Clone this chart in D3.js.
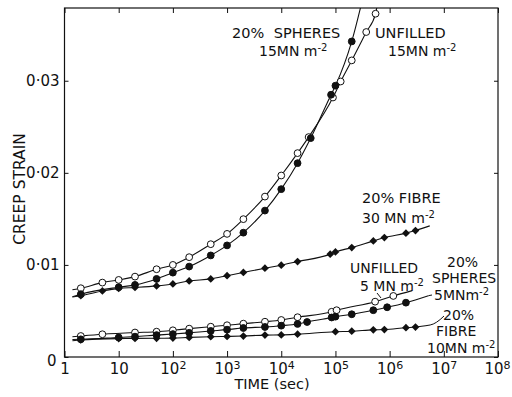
<!DOCTYPE html>
<html><head><meta charset="utf-8">
<script src="https://cdn.jsdelivr.net/npm/d3@7"></script>
<style>
body{margin:0;background:#fff;}
svg text{font-family:"DejaVu Sans",sans-serif;fill:#111;}
</style></head>
<body><svg id="c" width="512" height="397"></svg>
<script>
// ---- data (time in s, creep strain) ----
const xTickValues = [1,1e1,1e2,1e3,1e4,1e5,1e6,1e7,1e8];
const xTickBase = ["1","10","10","10","10","10","10","10","10"];
const xTickExp  = ["","","2","3","4","5","6","7","8"];
const yTickValues = [0,0.01,0.02,0.03];
const yTickLabels = ["0","0·01","0·02","0·03"];

const u15T = [2,5,10,20,50,100,200,500,1000,2000,5000,1e4,2e4,3.2e4,9e4,1.25e5,2e5,3.7e5,5.5e5];
const u15V = [0.00747,0.00808,0.00837,0.00873,0.00953,0.0100,0.01084,0.01225,0.01337,0.01497,0.01742,0.01971,0.02214,0.02388,0.02818,0.02992,0.03221,0.03529,0.03728];
const u15Start = [1.4,0.0073], u15End = [6.3e5,0.0393];

const s15T = [2,10,20,50,100,200,500,1000,2000,5000,1e4,2e4,3.5e4,8.3e4,1e5,2e5];
const s15V = [0.00682,0.00758,0.00783,0.00848,0.00916,0.00982,0.01103,0.01212,0.0135,0.0159,0.01823,0.02105,0.02377,0.02848,0.02946,0.03427];
const s15Start = [1.4,0.00655], s15End = [3.3e5,0.0393];

const f30T = [2,5,10,20,50,100,200,500,1000,2000,5000,1e4,2e4,8e4,1e5,2e5,5e5,8e5,2e6,3e6];
const f30V = [0.00666,0.00717,0.00745,0.00755,0.00772,0.00793,0.00826,0.00848,0.00883,0.00918,0.00964,0.00997,0.01036,0.01117,0.01141,0.01188,0.01261,0.01297,0.01345,0.01373];
const f30Start = [1.4,0.00652], f30End = [5.5e6,0.01424];

const u5T = [2,5,20,50,100,200,500,1000,2000,5000,1e4,2e4,8.5e4,1.05e5,5.4e5,1.17e6];
const u5V = [0.00228,0.00247,0.00266,0.00275,0.0029,0.00308,0.00329,0.00345,0.00362,0.00383,0.00402,0.00432,0.00491,0.00508,0.00601,0.00663];
const u5Start = [1.4,0.0022], u5End = [2.6e6,0.00721];

const s5T = [2,10,20,50,100,200,500,1000,2000,5000,1e4,2e4,3e4,8.5e4,1e5,2e5,5e5,9e5,2e6];
const s5V = [0.00192,0.00212,0.00221,0.00238,0.00249,0.00263,0.00283,0.00297,0.00315,0.00326,0.0034,0.00359,0.0038,0.00429,0.00438,0.00464,0.00508,0.0054,0.0059];
const s5Start = [1.4,0.0019], s5End = [5.2e6,0.00666];

const f10T = [2,10,20,50,100,200,500,1000,2000,5000,1e4,2e4,1e5,2e5,5e5,8e5,2e6,3e6];
const f10V = [0.00185,0.00200,0.00202,0.00203,0.00205,0.00213,0.0022,0.00223,0.00228,0.00238,0.0024,0.00248,0.00275,0.0028,0.00295,0.00298,0.00318,0.00325];
const f10Start = [1.4,0.00177], f10End = [5.6e6,0.00348];

const series = [
  {t:u15T,v:u15V,s:u15Start,e:u15End,m:"open"},
  {t:s15T,v:s15V,s:s15Start,e:s15End,m:"filled"},
  {t:f30T,v:f30V,s:f30Start,e:f30End,m:"diamond"},
  {t:u5T,v:u5V,s:u5Start,e:u5End,m:"open"},
  {t:s5T,v:s5V,s:s5Start,e:s5End,m:"filled"},
  {t:f10T,v:f10V,s:f10Start,e:f10End,m:"diamond"}
];

// ---- layout ----
const L=64.5, R=498, T=8, B=357;
const svg = d3.select("#c");
const x = d3.scaleLog().domain([1,1e8]).range([L,R]);
const y = d3.scaleLinear().domain([0,0.0379]).range([B,T]);

svg.append("defs").append("clipPath").attr("id","clip")
  .append("rect").attr("x",L).attr("y",T).attr("width",R-L).attr("height",B-T);

// frame
svg.append("rect").attr("x",L).attr("y",T).attr("width",R-L).attr("height",B-T)
  .attr("fill","none").attr("stroke","#111").attr("stroke-width",1.2);

// axes
const gB = svg.append("g").attr("transform",`translate(0,${B})`)
  .call(d3.axisBottom(x).tickValues(xTickValues).tickSize(-6).tickPadding(6)
    .tickFormat((d,i)=>xTickBase[i]));
const gT = svg.append("g").attr("transform",`translate(0,${T})`)
  .call(d3.axisTop(x).tickValues(xTickValues).tickSize(-5).tickFormat(""));
const gL = svg.append("g").attr("transform",`translate(${L},0)`)
  .call(d3.axisLeft(y).tickValues(yTickValues).tickSize(-4).tickPadding(5)
    .tickFormat((d,i)=>yTickLabels[i]));
const gR = svg.append("g").attr("transform",`translate(${R},0)`)
  .call(d3.axisRight(y).tickValues(yTickValues).tickSize(-4).tickFormat(""));
[gB,gT,gL,gR].forEach(g=>{
  g.select(".domain").remove();
  g.selectAll(".tick line").attr("stroke","#111").attr("stroke-width",1);
  g.selectAll("text").attr("font-size",15).attr("fill","#111")
    .attr("font-family","DejaVu Sans, sans-serif");
});
// superscript exponents on x tick labels
gB.selectAll(".tick text").each(function(d,i){
  const e = xTickExp[i];
  if(e){
    d3.select(this).append("tspan").attr("dy","-0.45em").attr("font-size",11).text(e);
  }
});
gB.selectAll(".tick").filter(d=>d===1e8).select("text")
  .attr("text-anchor","end").attr("x",12);
gL.selectAll(".tick").filter(d=>d===0).select("text").attr("dy","0.55em").attr("x",-8);

// curves
const line = d3.line().x(d=>x(d[0])).y(d=>y(d[1])).curve(d3.curveMonotoneX);
const plot = svg.append("g").attr("clip-path","url(#clip)");
series.forEach(S=>{
  const pts = [S.s, ...S.t.map((t,i)=>[t,S.v[i]]), S.e];
  plot.append("path").attr("d",line(pts)).attr("fill","none")
    .attr("stroke","#111").attr("stroke-width",1.1);
});
// markers
const diamond = d3.symbol().type(d3.symbolSquare).size(30);
series.forEach(S=>{
  S.t.forEach((t,i)=>{
    const cx=x(t), cy=y(S.v[i]);
    if(S.m==="diamond"){
      plot.append("path").attr("d",diamond())
        .attr("transform",`translate(${cx},${cy}) rotate(45)`).attr("fill","#111");
    } else {
      plot.append("circle").attr("cx",cx).attr("cy",cy).attr("r",3.4)
        .attr("fill",S.m==="open"?"#fff":"#111").attr("stroke","#111").attr("stroke-width",1);
    }
  });
});

// labels
function txt(xp,yp,s,anchor,size){
  return svg.append("text").attr("x",xp).attr("y",yp).attr("font-size",size||15)
    .attr("text-anchor",anchor||"start").text(s);
}
function unit(xp,yp,pre,anchor){
  const t = svg.append("text").attr("x",xp).attr("y",yp).attr("font-size",14)
    .attr("text-anchor",anchor||"start");
  t.append("tspan").text(pre);
  t.append("tspan").attr("dy",-5).attr("font-size",10).text("-2");
  return t;
}
txt(232,38,"20% SPHERES",null,14.5).attr("word-spacing",5);
unit(259,56,"15MN m");
txt(375,38,"UNFILLED",null,14.5);
unit(388,56,"15MN m");
txt(362,203,"20% FIBRE",null,14.5);
unit(362,223,"30 MN m");
txt(350,273,"UNFILLED",null,14);
unit(360,291,"5 MN m");
txt(447,267,"20%",null,14);
txt(432,283,"SPHERES",null,14);
unit(434,300,"5MNm");
txt(443,320,"20%",null,14);
txt(436,336,"FIBRE",null,14);
unit(427,353,"10MN m");

// leaders
const ld = svg.append("g").attr("stroke","#111").attr("stroke-width",1).attr("fill","none");
ld.append("path").attr("d","M377,293 L381,298");
ld.append("path").attr("d",`M${x(s5End[0])},${y(s5End[1])} L432,295`);
ld.append("path").attr("d",`M${x(f10End[0])},${y(f10End[1])} Q436,324 444,316`);

// axis titles
txt(272,389,"TIME (sec)","middle",14.5);
svg.append("text").attr("transform","translate(25,189) rotate(-90)")
  .attr("text-anchor","middle").attr("font-size",15.5).text("CREEP STRAIN");
</script></body></html>
